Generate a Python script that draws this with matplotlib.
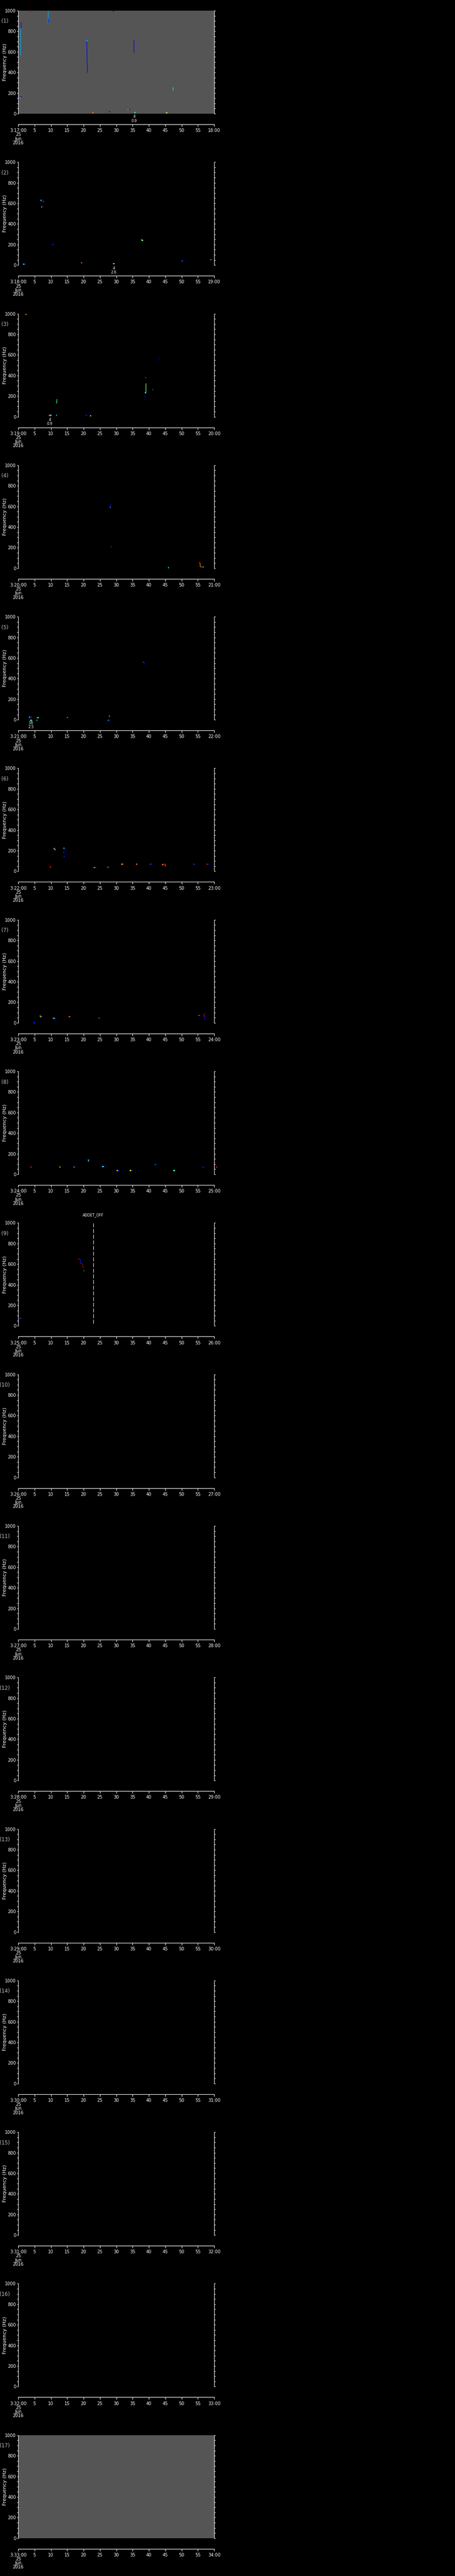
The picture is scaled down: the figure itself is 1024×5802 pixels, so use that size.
import numpy as np
import matplotlib
matplotlib.use("Agg")
import matplotlib.pyplot as plt
from matplotlib import font_manager
from matplotlib.ticker import MultipleLocator, FixedLocator

# --- figure geometry (pixels) ---
W, H = 1024, 5802
N_PANELS = 17
PITCH = H / N_PANELS

# --- data: 1-minute spectrogram panels, 25 Jun 2016, starting 3:17 ---
first_minute = 17
gray_panels = [1, 17]          # panels with filled (no-data) background

# tracks: (times [s], freqs [Hz], intensity level 0..1)
lines_1 = [([0.63, 0.63], [569, 830], 0.30), ([0.77, 0.77], [830, 888], 0.09),
           ([9.07, 9.07], [1000, 890], 0.30), ([9.25, 9.25], [924, 890], 0.09),
           ([21.0, 21.05, 21.2], [708, 550, 397], 0.09), ([35.4, 35.4], [715, 593], 0.09),
           ([47.4, 47.45], [256, 224], 0.36)]
dots_1 = [(0.75, 155, 0.36), (0.85, 162, 0.09), (3.9, 995, 0.96), (4.0, 1000, 0.96),
          (14.3, 0, 0.15), (22.6, 8, 0.9), (22.85, 8, 0.65), (28.0, 20, 0.15),
          (29.2, 995, 0.09), (33.8, 42, 0.65), (33.95, 42, 0.15), (35.4, 11, 0.9),
          (35.75, 11, 0.36), (45.3, 8, 0.36), (45.5, 8, 0.65), (21.0, 708, 0.3)]

lines_2 = [([7.6, 7.6], [620, 560], 0.02)]
dots_2 = [(7.0, 630, 0.36), (7.05, 622, 0.15), (7.2, 563, 0.5), (7.2, 557, 0.15),
          (7.65, 622, 0.15), (7.75, 618, 0.9), (10.6, 203, 0.9), (10.7, 203, 0.15),
          (1.7, 10, 0.65), (1.9, 10, 0.36), (2.1, 10, 0.15), (19.3, 23, 0.9),
          (19.45, 23, 0.77), (29.1, 14, 0.77), (29.3, 14, 0.65), (37.8, 245, 0.36),
          (38.0, 240, 0.5), (50.2, 40, 0.3), (50.35, 44, 0.15), (59.0, 53, 0.3)]

lines_3 = [([11.7, 11.9], [128, 171], 0.45), ([39.0, 39.0], [326, 234], 0.5),
           ([38.7, 38.9], [200, 190], 0.15), ([41.2, 41.25], [268, 258], 0.3),
           ([43.1, 43.05], [569, 555], 0.09), ([39.0, 39.05], [383, 376], 0.7)]
dots_3 = [(2.4, 994, 0.77), (9.4, 13, 0.9), (9.7, 13, 0.77), (10.0, 13, 0.36),
          (11.7, 13, 0.3), (20.9, 13, 0.15), (22.2, 9, 0.7), (38.95, 234, 0.36)]

lines_4 = [([28.1, 28.3], [590, 623], 0.15), ([28.4, 28.6], [209, 207], 0.3),
           ([55.6, 55.6, 56.0], [54, 17, 17], 0.77), ([56.0, 56.8], [14, 14], 0.3),
           ([56.7, 56.8], [14, 20], 0.65)]
dots_4 = [(55.6, 54, 0.9), (46.0, 7, 0.36), (28.15, 590, 0.3)]

lines_5 = [([38.1, 38.5], [566, 553], 0.9)]
dots_5 = [(3.4, 24, 0.36), (3.7, 24, 0.15), (4.0, 26, 0.15), (3.9, -7, 0.5),
          (4.0, -7, 0.36), (5.9, 19, 0.3), (6.1, 19, 0.36), (5.7, -7, 0.3),
          (14.9, 23, 0.15), (15.1, 23, 0.3), (27.9, 36, 0.5), (27.6, -7, 0.36),
          (27.8, -7, 0.15), (38.6, 553, 0.15)]

lines_6 = [([14.0, 14.0], [224, 183], 0.02), ([44.3, 44.4], [70, 60], 0.77)]
dots_6 = [(9.8, 44, 0.9), (9.95, 44, 0.9), (11.0, 221, 0.65), (11.15, 216, 0.15),
          (11.3, 211, 0.36), (14.0, 224, 0.36), (13.9, 183, 0.15), (14.05, 144, 0.15),
          (23.1, 36, 0.9), (23.4, 36, 0.65), (23.7, 36, 0.15), (27.5, 39, 0.77),
          (27.7, 36, 0.15), (31.8, 70, 0.36), (31.9, 70, 0.77), (36.2, 70, 0.77),
          (36.45, 70, 0.15), (40.5, 70, 0.9), (40.6, 70, 0.15), (44.3, 64, 0.77),
          (44.9, 70, 0.9), (45.05, 57, 0.3), (53.8, 70, 0.9), (53.9, 70, 0.15),
          (57.9, 70, 0.9), (58.0, 70, 0.15)]

lines_7 = [([56.9, 56.9], [92, 60], 0.9), ([6.7, 6.8], [71, 60], 0.9)]
dots_7 = [(4.8, 0, 0.15), (4.95, 0, 0.15), (6.7, 71, 0.9), (6.8, 60, 0.65),
          (7.0, 60, 0.36), (10.8, 43, 0.77), (11.0, 43, 0.3), (11.3, 43, 0.15),
          (15.6, 59, 0.9), (15.7, 59, 0.77), (24.8, 46, 0.77), (24.95, 46, 0.15),
          (55.4, 72, 0.65), (55.5, 72, 0.15), (57.0, 60, 0.9), (57.05, 60, 0.15),
          (57.0, 37, 0.15)]

lines_8 = []
dots_8 = [(3.9, 72, 0.9), (4.0, 72, 0.15), (12.7, 72, 0.9), (12.8, 72, 0.77),
          (17.2, 72, 0.65), (17.3, 72, 0.15), (21.5, 133, 0.5), (21.6, 140, 0.36),
          (21.7, 140, 0.15), (25.9, 75, 0.36), (26.1, 75, 0.65), (26.25, 77, 0.15),
          (30.2, 37, 0.9), (30.45, 37, 0.65), (30.7, 37, 0.15), (34.3, 37, 0.65),
          (34.55, 37, 0.5), (34.8, 37, 0.15), (42.0, 95, 0.3), (42.15, 97, 0.15),
          (47.6, 37, 0.5), (47.9, 37, 0.36), (56.6, 72, 0.9), (56.7, 72, 0.15),
          (60.7, 72, 0.15), (60.8, 72, 0.9)]

lines_9 = [([18.2, 18.5, 18.9, 19.0], [650, 653, 646, 646], 0.96),
           ([19.0, 19.1], [646, 607], 0.15),
           ([19.1, 19.5, 19.6, 19.8, 19.95, 20.05], [607, 607, 596, 583, 564, 557], 0.96),
           ([20.1, 20.15], [540, 534], 0.65), ([20.2, 20.3], [530, 524], 0.15)]
dots_9 = [(0.7, 74, 0.9), (0.8, 74, 0.15)]

# annotations below the axes: panel -> (time, line1, line2)
notes = {1: (35.55, "4", "0.9"), 2: (29.25, "4", "2.6"),
         3: (9.7, "4", "0.9"), 5: (3.85, "16", "2.5")}
# event markers: panel -> (time, label)
events = {9: (23.0, "ADDET_OFF")}
event_freq = [25, 1000]

all_lines = {1: lines_1, 2: lines_2, 3: lines_3, 4: lines_4, 5: lines_5,
             6: lines_6, 7: lines_7, 8: lines_8, 9: lines_9}
all_dots = {1: dots_1, 2: dots_2, 3: dots_3, 4: dots_4, 5: dots_5,
            6: dots_6, 7: dots_7, 8: dots_8, 9: dots_9}

# --- fonts ---
names = {f.name for f in font_manager.fontManager.ttflist}
if "Liberation Sans Narrow" in names:
    NARROW = dict(family="Liberation Sans Narrow")
else:
    NARROW = dict(family="DejaVu Sans", stretch="condensed")

cmap = plt.get_cmap("jet")
fig = plt.figure(figsize=(W / 100, H / 100), dpi=100, facecolor="black")


def px_axes(x0, y0, w, h):
    return fig.add_axes([x0 / W, 1 - (y0 + h) / H, w / W, h / H])


for k in range(1, N_PANELS + 1):
    T = (k - 1) * PITCH
    minute = first_minute + k - 1

    ax = px_axes(41, T + 24, 441, 232)
    ax.set_facecolor("#555555" if k in gray_panels else "black")
    ax.set_xlim(0, 60)
    ax.set_ylim(0, 1000)
    for s in ("top", "bottom"):
        ax.spines[s].set_visible(False)
    for s in ("left", "right"):
        ax.spines[s].set_color("white")
        ax.spines[s].set_linewidth(0.8)
    ax.set_xticks([])
    ax.yaxis.set_major_locator(MultipleLocator(200))
    ax.yaxis.set_minor_locator(MultipleLocator(50))
    ax.tick_params(axis="y", which="both", direction="out", left=True, right=True,
                   labelleft=True, labelright=False, colors="white",
                   length=2, width=0.8, pad=1.5)
    for lab in ax.get_yticklabels():
        lab.set_fontproperties(font_manager.FontProperties(size=7.8, **NARROW))

    for ts, fs, lv in all_lines.get(k, []):
        ax.plot(ts, fs, color=cmap(lv), lw=0.9, clip_on=False,
                solid_capstyle="butt")
    d = all_dots.get(k, [])
    if d:
        t, f, lv = zip(*d)
        ax.scatter(t, f, c=[cmap(v) for v in lv], marker="s", s=3.6,
                   linewidths=0, clip_on=False, zorder=3)

    xt = ax.get_xaxis_transform()
    if k in notes:
        tn, a, b = notes[k]
        ax.text(tn, -0.030, a, transform=xt, ha="center", va="center",
                color="white", fontsize=6.5, **NARROW)
        ax.text(tn, -0.069, b, transform=xt, ha="center", va="center",
                color="white", fontsize=6.5, **NARROW)
    if k in events:
        te, lab = events[k]
        ax.plot([te, te], event_freq, color="white", lw=0.8,
                linestyle=(0, (8, 3.5)))
        ax.text(te, 1.075, lab, transform=xt, ha="center", va="center",
                color="white", fontsize=6.5, **NARROW)

    fig.text(11.5 / W, 1 - (T + 140) / H, "Frequency (Hz)", rotation=90,
             ha="center", va="center", color="white", fontsize=8,
             family="DejaVu Sans")
    fig.text(11 / W, 1 - (T + 48) / H, f"({k})", ha="center", va="center",
             color="#c0c0c0", fontsize=9, **NARROW)

    # separate time axis below the panel
    tax = px_axes(41, T + 279, 441, 1)
    tax.set_facecolor("none")
    for s in ("top", "left", "right"):
        tax.spines[s].set_visible(False)
    tax.spines["bottom"].set_color("white")
    tax.spines["bottom"].set_linewidth(0.9)
    tax.set_xlim(0, 60)
    tax.set_yticks([])
    ticks = list(range(0, 61, 5))
    labels = [f"3:{minute}:00\n25\nJun\n2016"] + [str(v) for v in ticks[1:-1]] + [f"{minute + 1}:00"]
    tax.xaxis.set_major_locator(FixedLocator(ticks))
    tax.set_xticklabels(labels)
    tax.tick_params(axis="x", direction="out", colors="white", length=3.6,
                    width=0.8, pad=3)
    for lab in tax.get_xticklabels():
        lab.set_fontproperties(font_manager.FontProperties(size=7.8, **NARROW))
        lab.set_linespacing(0.9)

fig.savefig("out.png", dpi=100, facecolor="black")
